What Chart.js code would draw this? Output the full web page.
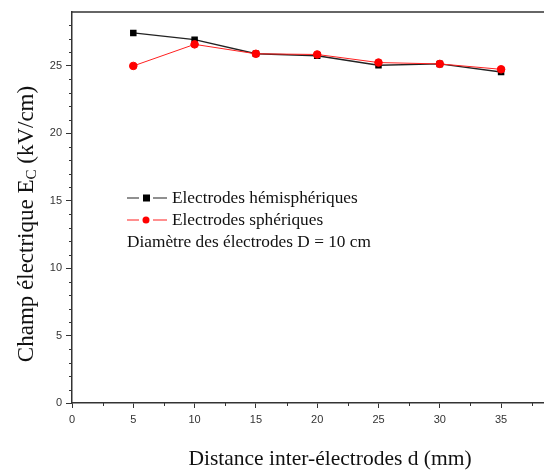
<!DOCTYPE html>
<html>
<head>
<meta charset="utf-8">
<script src="https://cdn.jsdelivr.net/npm/chart.js@4/dist/chart.umd.min.js"></script>
<style>
  html, body { margin: 0; padding: 0; background: #fff; overflow: hidden; }
  canvas { display: block; }
</style>
</head>
<body>
<canvas id="chart" width="544" height="470"></canvas>
<script>
const distances = [5, 10, 15, 20, 25, 30, 35];
const hemispheric = [27.45, 26.95, 25.9, 25.75, 25.05, 25.15, 24.55];
const spherical = [25.0, 26.6, 25.9, 25.85, 25.25, 25.15, 24.75];
const xTicks = [0, 5, 10, 15, 20, 25, 30, 35];
const yTicks = [0, 5, 10, 15, 20, 25];

const toPoints = (ys) => distances.map((d, i) => ({ x: d, y: ys[i] }));

// frame, minor ticks, axis titles, legend
const decorations = {
  id: "decorations",
  afterDraw(chart) {
    const ctx = chart.ctx;
    const area = chart.chartArea;
    const xs = chart.scales.x;
    const ys = chart.scales.y;
    ctx.save();
    ctx.strokeStyle = "#333";
    ctx.lineWidth = 1.5;
    ctx.beginPath();
    ctx.moveTo(area.left, area.top);
    ctx.lineTo(area.right, area.top);
    ctx.stroke();

    ctx.lineWidth = 1;
    ctx.beginPath();
    for (let v = 1; v < 29; v++) {
      if (v % 5 === 0) continue;
      const py = Math.round(ys.getPixelForValue(v)) + 0.5;
      ctx.moveTo(area.left - 3, py);
      ctx.lineTo(area.left, py);
    }
    for (let v = 2.5; v < 38.5; v += 5) {
      const px = Math.round(xs.getPixelForValue(v)) + 0.5;
      ctx.moveTo(px, area.bottom);
      ctx.lineTo(px, area.bottom + 3);
    }
    ctx.stroke();

    // x title
    ctx.fillStyle = "#111";
    ctx.font = "21.5px 'Liberation Serif', 'Times New Roman', serif";
    ctx.textAlign = "center";
    ctx.textBaseline = "middle";
    ctx.fillText("Distance inter-électrodes d (mm)", 330, 459);

    // y title with subscript
    ctx.save();
    ctx.translate(27, 224);
    ctx.rotate(-Math.PI / 2);
    const main = "Champ électrique E";
    const sub = "C";
    const tail = " (kV/cm)";
    const f1 = "23px 'Liberation Serif', 'Times New Roman', serif";
    const f2 = "15px 'Liberation Serif', 'Times New Roman', serif";
    ctx.font = f1;
    const w1 = ctx.measureText(main).width;
    const w3 = ctx.measureText(tail).width;
    ctx.font = f2;
    const w2 = ctx.measureText(sub).width;
    let x0 = -(w1 + w2 + w3) / 2;
    ctx.textAlign = "left";
    ctx.font = f1;
    ctx.fillText(main, x0, 0);
    ctx.font = f2;
    ctx.fillText(sub, x0 + w1, 5);
    ctx.font = f1;
    ctx.fillText(tail, x0 + w1 + w2, 0);
    ctx.restore();

    // legend
    ctx.font = "17.3px 'Liberation Serif', 'Times New Roman', serif";
    ctx.textAlign = "left";
    ctx.textBaseline = "middle";
    const rows = [
      { ds: chart.data.datasets[0], y: 198 },
      { ds: chart.data.datasets[1], y: 220 },
    ];
    rows.forEach((r) => {
      ctx.strokeStyle = r.ds.borderColor;
      ctx.lineWidth = 1.2;
      ctx.beginPath();
      ctx.moveTo(127, r.y);
      ctx.lineTo(139, r.y);
      ctx.moveTo(153, r.y);
      ctx.lineTo(167, r.y);
      ctx.stroke();
      ctx.fillStyle = r.ds.pointBackgroundColor;
      if (r.ds.pointStyle === "rect") {
        ctx.fillRect(143, r.y - 3.5, 7, 7);
      } else {
        ctx.beginPath();
        ctx.arc(146, r.y, 3.5, 0, Math.PI * 2);
        ctx.fill();
      }
      ctx.fillStyle = "#111";
      ctx.fillText(r.ds.label, 172, r.y);
    });
    ctx.fillText("Diamètre des électrodes D = 10 cm", 127, 242);
    ctx.restore();
  },
};

new Chart(document.getElementById("chart"), {
  type: "line",
  data: {
    datasets: [
      {
        label: "Electrodes hémisphériques",
        data: toPoints(hemispheric),
        borderColor: "#222",
        backgroundColor: "#000",
        pointBackgroundColor: "#000",
        pointBorderColor: "#000",
        pointStyle: "rect",
        pointRadius: 3.6,
        borderWidth: 1.4,
        order: 1,
      },
      {
        label: "Electrodes sphériques",
        data: toPoints(spherical),
        borderColor: "#ff2020",
        backgroundColor: "#ff0000",
        pointBackgroundColor: "#ff0000",
        pointBorderColor: "#ff0000",
        pointStyle: "circle",
        pointRadius: 3.8,
        borderWidth: 1,
        order: 0,
      },
    ],
  },
  plugins: [decorations],
  options: {
    responsive: false,
    animation: false,
    layout: { autoPadding: false, padding: { left: 0, right: 0, top: 12, bottom: 0 } },
    plugins: { legend: { display: false }, tooltip: { enabled: false } },
    scales: {
      x: {
        type: "linear",
        min: 0,
        max: 38.5,
        afterBuildTicks: (scale) => {
          scale.ticks = xTicks.map((v) => ({ value: v }));
        },
        afterFit: (scale) => {
          scale.height = 67;
          scale.paddingLeft = 0;
          scale.paddingRight = 0;
        },
        grid: { drawOnChartArea: false, tickLength: 5, color: "#333", tickWidth: 1 },
        border: { color: "#333", width: 1.5 },
        ticks: {
          color: "#333",
          padding: 5,
          maxRotation: 0,
          font: { family: "'Liberation Sans', Arial, sans-serif", size: 11 },
        },
      },
      y: {
        min: 0,
        max: 29,
        afterBuildTicks: (scale) => {
          scale.ticks = yTicks.map((v) => ({ value: v }));
        },
        afterFit: (scale) => {
          scale.width = 72;
          scale.paddingTop = 0;
          scale.paddingBottom = 0;
        },
        grid: { drawOnChartArea: false, tickLength: 6, color: "#333", tickWidth: 1 },
        border: { color: "#333", width: 1.5 },
        ticks: {
          color: "#333",
          padding: 4,
          font: { family: "'Liberation Sans', Arial, sans-serif", size: 11 },
        },
      },
    },
  },
});
</script>
</body>
</html>
